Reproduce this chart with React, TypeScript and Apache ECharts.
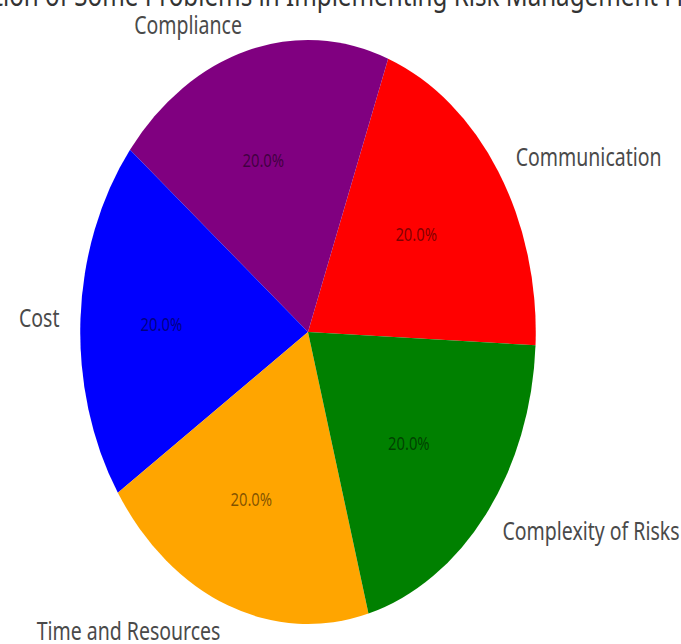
import React, { useEffect, useRef } from "react";
import * as echarts from "echarts";

const categories = ["Communication", "Compliance", "Cost", "Time and Resources", "Complexity of Risks"];
const values = [20, 20, 20, 20, 20];
const colors = ["#ff0000", "#800080", "#0000ff", "#ffa500", "#008000"];
const titleText = "Distribution of Some Problems in Implementing Risk Management Frameworks";

const SCALE_X = 0.78;
const W = Math.round(681 / SCALE_X);
const H = 644;

export default function App() {
  const ref = useRef<HTMLDivElement>(null);
  useEffect(() => {
    if (!ref.current) return;
    const chart = echarts.init(ref.current, null, { renderer: "svg" });
    const cx = 308 / SCALE_X;
    const cy = 332;
    const R = 292;
    const data = categories.map((name, i) => ({ name, value: values[i], itemStyle: { color: colors[i] } }));
    chart.setOption({
      animation: false,
      backgroundColor: "#ffffff",
      graphic: [
        {
          type: "text",
          x: -123,
          y: -6,
          silent: true,
          style: {
            text: titleText,
            font: "31px 'Noto Sans'",
            fill: "#333333",
            textAlign: "left",
            textVerticalAlign: "middle",
          },
        },
      ],
      series: [
        {
          type: "pie",
          center: [cx, cy],
          radius: [0, R],
          startAngle: 357.4,
          clockwise: false,
          avoidLabelOverlap: false,
          emphasis: { disabled: true },
          itemStyle: { borderWidth: 0 },
          label: {
            show: true,
            position: "outside",
            formatter: "{b}",
            fontFamily: "Noto Sans",
            fontSize: 25,
            color: "#4a4a4a",
            distanceToLabelLine: 0,
          },
          labelLine: { show: false, length: 27, length2: 0 },
          data,
        },
        {
          type: "pie",
          center: [cx - 10, cy],
          radius: [0, R * 1.2],
          startAngle: 357.4,
          clockwise: false,
          silent: true,
          avoidLabelOverlap: false,
          emphasis: { disabled: true },
          itemStyle: { color: "transparent", borderWidth: 0 },
          label: {
            show: true,
            position: "inside",
            formatter: (p: any) => p.percent.toFixed(1) + "%",
            fontFamily: "Noto Sans",
            fontSize: 19,
            color: "rgba(0,0,0,0.5)",
          },
          labelLine: { show: false },
          data: categories.map((name, i) => ({ name, value: values[i] })),
        },
      ],
    });
    return () => chart.dispose();
  }, []);
  return (
    <div
      style={{
        position: "fixed",
        left: 0,
        top: 0,
        width: 681,
        height: 644,
        overflow: "hidden",
        background: "#fff",
      }}
    >
      <div
        ref={ref}
        style={{
          width: W,
          height: H,
          transform: `scaleX(${SCALE_X})`,
          transformOrigin: "0 0",
        }}
      />
    </div>
  );
}
